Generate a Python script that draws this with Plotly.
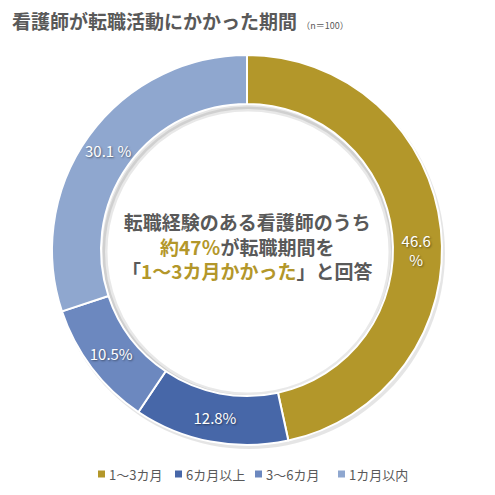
import math

import plotly.graph_objects as go

categories = ["1〜3カ月", "6カ月以上", "3〜6カ月", "1カ月以内"]
shares = [46.6, 12.8, 10.5, 30.1]
slice_labels = ["46.6<br>%", "12.8%", "10.5%", "30.1 %"]
colors = ["#B3972A", "#4767A8", "#6C88BF", "#8FA7CF"]

W = H = 495
OFF = 8  # page body margin pushes the figure 8px right/down
CX, CY = 247, 250
R_OUT, R_IN = 195, 146
FONT = "Noto Sans CJK JP"
GRAY = "#595959"
GOLD = "#B3972A"
LABEL_FONT = dict(family=FONT, size=15, color="white",
                  shadow="1px 1px 2px rgba(0,0,0,0.45)")
# legend row: left edge of each swatch, plotly's own legend spaces them too wide
LEGEND_X = [98, 175, 255, 338]
LEGEND_Y = 474


def px(x):
    return (x - OFF) / W


def py(y):
    return 1 - (y - OFF) / H


def circle(cx, cy, r, **kw):
    return dict(type="circle", xref="paper", yref="paper",
                x0=px(cx - r), x1=px(cx + r),
                y0=py(cy + r), y1=py(cy - r), **kw)


# the 1カ月以内 label sits on the slice bisector in the reference,
# plotly would slide it to the left axis, so it is placed by hand
positions = ["inside", "inside", "inside", "none"]
annots = []
start = 0.0
r_mid = (R_IN + R_OUT) / 2
for share, lab, pos in zip(shares, slice_labels, positions):
    mid = (start + share / 2) / sum(shares) * 2 * math.pi
    start += share
    if pos != "none":
        continue
    annots.append(dict(
        text=lab, x=px(CX + r_mid * math.sin(mid)),
        y=py(CY - r_mid * math.cos(mid)),
        xanchor="center", yanchor="middle",
        xref="paper", yref="paper", showarrow=False,
        font=LABEL_FONT,
    ))

fig = go.Figure(go.Pie(
    labels=categories,
    values=shares,
    text=slice_labels,
    textinfo="text",
    textposition=positions,
    insidetextorientation="horizontal",
    textfont=LABEL_FONT,
    marker=dict(colors=colors, line=dict(color="white", width=2)),
    hole=R_IN / R_OUT,
    sort=False,
    direction="clockwise",
    rotation=0,
    domain=dict(x=[px(CX - R_OUT), px(CX + R_OUT)],
                y=[py(CY + R_OUT), py(CY - R_OUT)]),
    hoverinfo="label+value",
    showlegend=False,
))

shapes = [
    # soft drop shadow outside the ring
    circle(CX + 2, CY + 3, R_OUT + 1, layer="below",
           fillcolor="rgba(0,0,0,0.10)", line=dict(width=0)),
    # inner shadow along the hole
    circle(CX + 1, CY + 2, R_IN - 3, layer="below",
           fillcolor="white", line=dict(color="rgba(0,0,0,0.09)", width=5)),
]

for cat, col, lx in zip(categories, colors, LEGEND_X):
    shapes.append(dict(type="rect", xref="paper", yref="paper",
                       x0=px(lx), x1=px(lx + 7),
                       y0=py(LEGEND_Y + 3.5), y1=py(LEGEND_Y - 3.5),
                       fillcolor=col, line=dict(width=0)))
    annots.append(dict(text=cat, x=px(lx + 9), y=py(LEGEND_Y),
                       xanchor="left", yanchor="middle",
                       xref="paper", yref="paper", showarrow=False,
                       font=dict(family=FONT, size=13, color=GRAY)))

center_text = (
    "転職経験のある看護師のうち<br>"
    f"<span style='color:{GOLD}'>約47％</span>が転職期間を<br>"
    f"「<span style='color:{GOLD}'>1〜3カ月かかった</span>」と回答"
)

fig.update_layout(
    width=W, height=H,
    margin=dict(l=0, r=0, t=0, b=0),
    paper_bgcolor="white",
    plot_bgcolor="white",
    font=dict(family=FONT, color=GRAY),
    shapes=shapes,
    title=dict(
        text="看護師が転職活動にかかった期間 "
             "<span style='font-size:9px;font-weight:normal'>（n＝100）</span>",
        x=px(12), xanchor="left", y=py(22), yanchor="middle",
        font=dict(family=FONT, size=19, color=GRAY, weight="bold"),
    ),
    annotations=[dict(
        text=center_text, x=px(CX), y=py(246),
        xref="paper", yref="paper", showarrow=False,
        font=dict(family=FONT, size=19, color=GRAY, weight="bold"),
        align="center",
    )] + annots,
)

fig.write_html("out.html")
